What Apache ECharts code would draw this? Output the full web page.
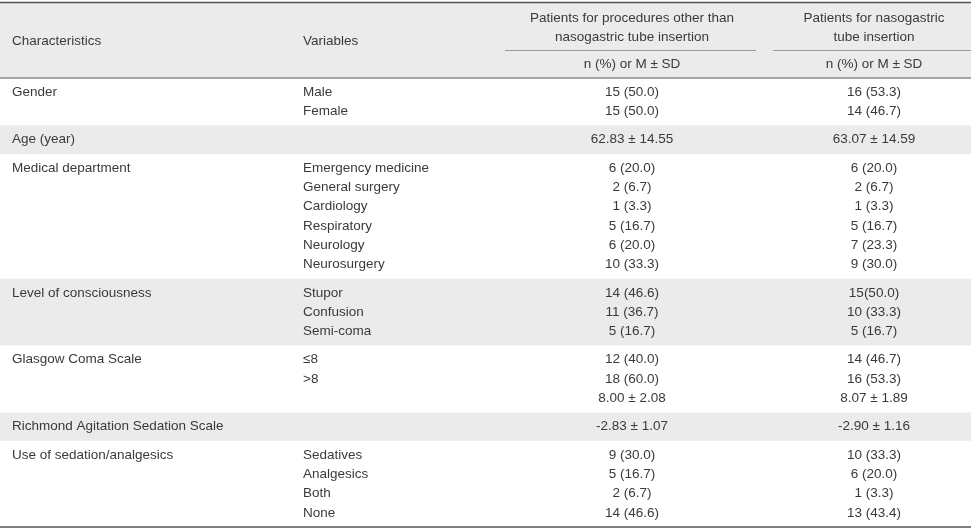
<!DOCTYPE html>
<html><head><meta charset="utf-8">
<script src="https://cdn.jsdelivr.net/npm/echarts@6/dist/echarts.min.js"></script>
<style>html,body{margin:0;padding:0;background:#fff}#c{width:971px;height:530px}</style>
</head><body><div id="c"></div>
<script>
// ---- table content ----
const columnHeaders = ['Characteristics', 'Variables'];
const groupHeaders = [
  ['Patients for procedures other than', 'nasogastric tube insertion'],
  ['Patients for nasogastric', 'tube insertion']
];
const subHeaders = ['n (%) or M \u00b1 SD', 'n (%) or M \u00b1 SD'];
const characteristics = [
  'Gender', 'Age (year)', 'Medical department', 'Level of consciousness',
  'Glasgow Coma Scale', 'Richmond Agitation Sedation Scale', 'Use of sedation/analgesics'
];
const variables = [
  ['Male', 'Female'],
  [''],
  ['Emergency medicine', 'General surgery', 'Cardiology', 'Respiratory', 'Neurology', 'Neurosurgery'],
  ['Stupor', 'Confusion', 'Semi-coma'],
  ['\u22648', '>8', ''],
  [''],
  ['Sedatives', 'Analgesics', 'Both', 'None']
];
const otherProcedures = [
  ['15 (50.0)', '15 (50.0)'],
  ['62.83 \u00b1 14.55'],
  ['6 (20.0)', '2 (6.7)', '1 (3.3)', '5 (16.7)', '6 (20.0)', '10 (33.3)'],
  ['14 (46.6)', '11 (36.7)', '5 (16.7)'],
  ['12 (40.0)', '18 (60.0)', '8.00 \u00b1 2.08'],
  ['-2.83 \u00b1 1.07'],
  ['9 (30.0)', '5 (16.7)', '2 (6.7)', '14 (46.6)']
];
const ngtInsertion = [
  ['16 (53.3)', '14 (46.7)'],
  ['63.07 \u00b1 14.59'],
  ['6 (20.0)', '2 (6.7)', '1 (3.3)', '5 (16.7)', '7 (23.3)', '9 (30.0)'],
  ['15(50.0)', '10 (33.3)', '5 (16.7)'],
  ['14 (46.7)', '16 (53.3)', '8.07 \u00b1 1.89'],
  ['-2.90 \u00b1 1.16'],
  ['10 (33.3)', '6 (20.0)', '1 (3.3)', '13 (43.4)']
];

// ---- layout (pixel units of the hidden axes) ----
const W = 971, H = 530;
const headerTop = 3, headerBottom = 78;
const linePitch = 19.3, rowPad = 28.3;
const colLeft = [12, 303];
const colCenter = [632, 874];
const subLineSpans = [[505, 756], [773, 971]];
const shade = '#ebebeb', ink = '#3a3a3a', rule = '#555555', thinRule = '#9a9a9a';
const FONT = "'Liberation Sans', Arial, sans-serif";
const FS = 13.5;

const rowTops = [headerBottom];
variables.forEach((v, i) => rowTops.push(rowTops[i] + (v.length - 1) * linePitch + rowPad));

function txt(api, x, y, s, align) {
  const p = api.coord([x, y]);
  return { type: 'text', x: p[0], y: p[1], silent: true,
    style: { text: s, fill: ink, fontSize: FS, fontFamily: FONT, align: align, verticalAlign: 'middle' } };
}
function rect(api, x0, y0, x1, y1, fill) {
  const a = api.coord([x0, y0]), b = api.coord([x1, y1]);
  return { type: 'rect', silent: true, shape: { x: a[0], y: a[1], width: b[0] - a[0], height: b[1] - a[1] }, style: { fill: fill } };
}
function hline(api, x0, x1, y, color, w) {
  const a = api.coord([x0, y]), b = api.coord([x1, y]);
  return { type: 'line', silent: true, shape: { x1: a[0], y1: a[1], x2: b[0], y2: b[1] }, style: { stroke: color, lineWidth: w } };
}

function renderRow(params, api) {
  const i = api.value(0);
  const top = rowTops[i], bottom = rowTops[i + 1];
  const children = [];
  if (i % 2 === 1) children.push(rect(api, 0, top, W, bottom, shade));
  const y0 = top + rowPad / 2;
  children.push(txt(api, colLeft[0], y0, characteristics[i], 'left'));
  variables[i].forEach((s, k) => children.push(txt(api, colLeft[1], y0 + k * linePitch, s, 'left')));
  otherProcedures[i].forEach((s, k) => children.push(txt(api, colCenter[0], y0 + k * linePitch, s, 'center')));
  ngtInsertion[i].forEach((s, k) => children.push(txt(api, colCenter[1], y0 + k * linePitch, s, 'center')));
  return { type: 'group', children: children };
}

function renderHeader(params, api) {
  const children = [rect(api, 0, headerTop, W, headerBottom, shade)];
  children.push(txt(api, colLeft[0], 41, columnHeaders[0], 'left'));
  children.push(txt(api, colLeft[1], 41, columnHeaders[1], 'left'));
  groupHeaders.forEach((g, c) => {
    g.forEach((s, k) => children.push(txt(api, colCenter[c], 18.5 + k * 18.5, s, 'center')));
    children.push(txt(api, colCenter[c], 64, subHeaders[c], 'center'));
    children.push(hline(api, subLineSpans[c][0], subLineSpans[c][1], 50.5, thinRule, 1));
  });
  children.push(hline(api, 0, W, 2.5, rule, 1.5));
  children.push(hline(api, 0, W, 78, rule, 1));
  children.push(hline(api, 0, W, rowTops[rowTops.length - 1], rule, 1.5));
  return { type: 'group', children: children };
}

const chart = echarts.init(document.getElementById('c'), null, { renderer: 'canvas' });
chart.setOption({
  animation: false,
  backgroundColor: '#ffffff',
  grid: { left: 0, right: 0, top: 0, bottom: 0 },
  xAxis: { type: 'value', min: 0, max: W, show: false },
  yAxis: { type: 'value', min: 0, max: H, inverse: true, show: false },
  series: [
    { type: 'custom', renderItem: renderRow, data: characteristics.map((c, i) => [i]), encode: { x: -1, y: -1 }, clip: false, silent: true, z: 1 },
    { type: 'custom', renderItem: renderHeader, data: [[0]], encode: { x: -1, y: -1 }, clip: false, silent: true, z: 2 }
  ]
});
</script></body></html>
